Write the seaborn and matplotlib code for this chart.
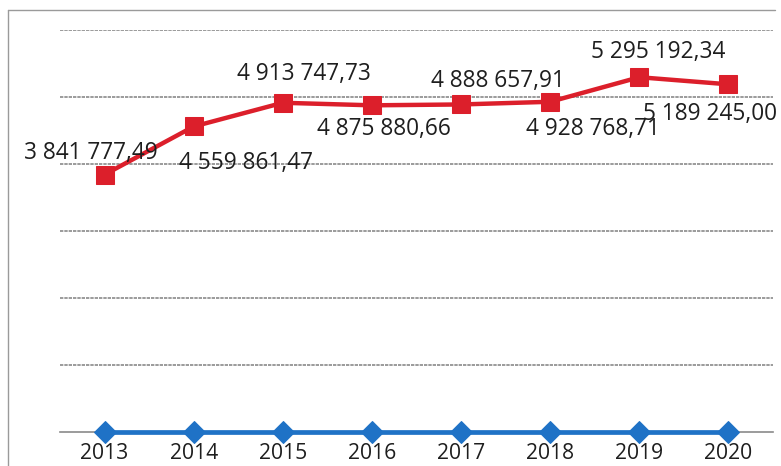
import matplotlib
matplotlib.use("Agg")
import matplotlib.pyplot as plt
import seaborn as sns
import pandas as pd
from matplotlib.lines import Line2D

years = [2013, 2014, 2015, 2016, 2017, 2018, 2019, 2020]
red_values = [3841777.49, 4559861.47, 4913747.73, 4875880.66,
              4888657.91, 4928768.71, 5295192.34, 5189245.00]
blue_values = [0, 0, 0, 0, 0, 0, 0, 0]
tick_labels = ["2013", "2014", "2015", "2016", "2017", "2018", "2019", "2020"]

sns.set_theme(style="white")
plt.rcParams['font.family'] = ['Open Sans', 'DejaVu Sans']

W, H = 781, 466
fig = plt.figure(figsize=(W / 100, H / 100), dpi=100)
ax = fig.add_axes([60 / W, 1 - 432 / H, (773 - 60) / W, (432 - 30) / H])

df_red = pd.DataFrame({"year": years, "value": red_values})
df_blue = pd.DataFrame({"year": years, "value": blue_values})

red = "#DC1F2B"
blue = "#1F72C6"

ax.set_xlim(2012.5, 2020.5)
ax.set_ylim(0, 6_000_000)
ax.set_yticks([1e6, 2e6, 3e6, 4e6, 5e6, 6e6])
ax.yaxis.grid(True, color="#8a8a8a", linewidth=1.2, linestyle=(0, (2, 0.6)))
ax.set_axisbelow(True)

sns.lineplot(data=df_blue, x="year", y="value", ax=ax, color=blue, linewidth=3.4,
             marker="D", markersize=11, markeredgecolor=blue, clip_on=False, zorder=3)
sns.lineplot(data=df_red, x="year", y="value", ax=ax, color=red, linewidth=3.2,
             marker="s", markersize=13, markeredgecolor=red, clip_on=False, zorder=4)

# data labels (offsets in pixels: dx, dy upward)
offsets = [(-14, 22), (52, -37), (21, 29), (12, -24), (37, 23), (43, -27), (19, 25), (-18, -30)]
for yr, v, (dx, dy) in zip(years, red_values, offsets):
    txt = f"{v:,.2f}".replace(",", " ").replace(".", ",")
    ax.annotate(txt, (yr, v), xytext=(dx * 0.72, dy * 0.72), textcoords="offset points",
                ha="center", va="center", fontsize=16.3, color="#1e1e1e", zorder=5)

ax.set_xticks(years)
ax.set_xticklabels(tick_labels, fontsize=15.2, color="#1e1e1e")
ax.set_yticklabels([])
ax.tick_params(axis="both", length=0)
ax.tick_params(axis="x", pad=8)
ax.set_xlabel("")
ax.set_ylabel("")
for s in ["top", "right", "left"]:
    ax.spines[s].set_visible(False)
ax.spines["bottom"].set_color("#8a8a8a")
ax.spines["bottom"].set_linewidth(1.2)

# chart-area border
fig.add_artist(Line2D([8 / W, 8 / W], [0, 1 - 10 / H], transform=fig.transFigure,
                      color="#9a9a9a", linewidth=1.0))
fig.add_artist(Line2D([8 / W, 775 / W], [1 - 10 / H, 1 - 10 / H], transform=fig.transFigure,
                      color="#9a9a9a", linewidth=1.0))

fig.savefig("out.png", dpi=100)
